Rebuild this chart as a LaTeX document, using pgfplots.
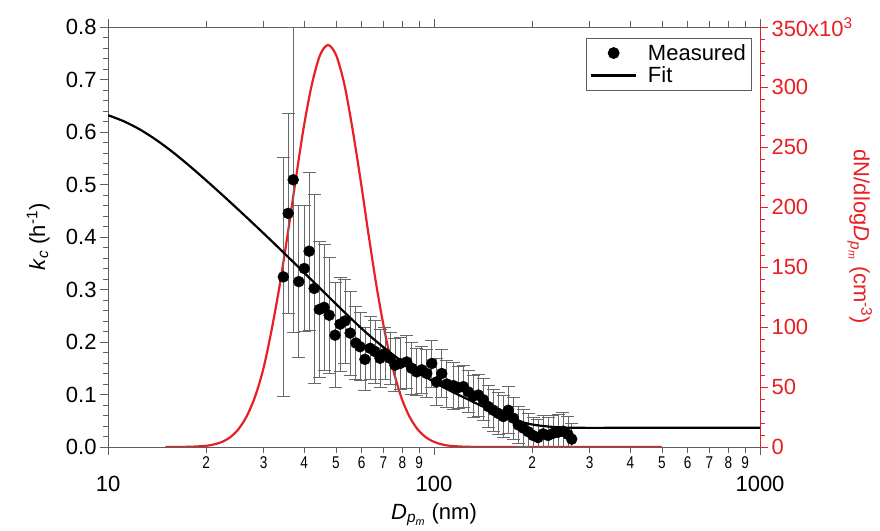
\documentclass[border=0pt]{standalone}
\usepackage{graphicx}
\usepackage{pgfplots}
\pgfplotsset{compat=1.18}
\usepackage{fontspec}
\setmainfont{Liberation Sans}
\definecolor{myred}{RGB}{232,32,38}
\definecolor{axgray}{RGB}{95,95,95}
\definecolor{errgray}{RGB}{105,105,105}
\newcommand{\nl}[1]{\scalebox{0.8}[1]{#1}}
\pgfplotsset{
  marklegend/.style={legend image code/.code={\draw[##1] plot coordinates {(0.78cm,0cm)};}},
  linelegend/.style={legend image code/.code={\draw[##1] (0cm,0cm) -- (1.56cm,0cm);}},
}

\pgfplotstableread{
D k e
34.5 0.324 0.227
35.7 0.445 0.19
37.0 0.509 0.29
38.5 0.315 0.145
40.0 0.340 0.12
41.4 0.373 0.15
42.9 0.302 0.18
44.5 0.262 0.13
46.0 0.266 0.12
47.7 0.251 0.11
49.7 0.213 0.10
51.5 0.234 0.09
53.3 0.240 0.08
55.3 0.217 0.08
57.6 0.198 0.07
59.3 0.191 0.065
61.4 0.167 0.06
63.7 0.188 0.06
65.9 0.182 0.06
68.3 0.169 0.055
70.7 0.178 0.05
73.3 0.169 0.05
75.9 0.156 0.05
78.7 0.159 0.05
82.5 0.162 0.05
85.4 0.150 0.05
88.5 0.143 0.045
91.7 0.147 0.045
95.0 0.140 0.045
98.4 0.159 0.045
101.9 0.124 0.045
105.6 0.140 0.045
109.4 0.120 0.045
114.6 0.117 0.045
118.7 0.113 0.04
123.0 0.115 0.04
127.4 0.105 0.04
132.0 0.097 0.04
136.8 0.099 0.04
141.7 0.090 0.04
146.8 0.077 0.04
152.0 0.070 0.04
157.5 0.064 0.04
163.2 0.058 0.04
169.0 0.070 0.045
175.1 0.055 0.04
181.4 0.042 0.035
187.9 0.036 0.035
194.7 0.029 0.035
201.3 0.022 0.035
208.4 0.018 0.035
216.0 0.025 0.035
223.8 0.022 0.035
231.7 0.026 0.035
240.1 0.028 0.035
248.7 0.030 0.035
257.6 0.024 0.035
264.5 0.015 0.03
}\measured

\begin{document}
\begin{tikzpicture}
% right axis: size distribution
\begin{axis}[
  at={(0,0)}, anchor=south west,
  scale only axis, width=652pt, height=420pt,
  xmode=log, xmin=10, xmax=1000,
  ymin=0, ymax=350,
  axis x line=none,
  axis y line*=right,
  y axis line style={myred, line width=0.8pt},
  ytick={0,50,100,150,200,250,300,350},
  yticklabels={0,50,100,150,200,250,300,350x10\textsuperscript{3}},
  minor y tick num=4,
  tick align=outside,
  major tick length=8pt, minor tick length=5pt,
  y tick style={myred, line width=0.6pt},
  yticklabel style={font=\fontsize{22}{24}\selectfont, text=myred},
  ylabel={dN/dlog\textit{D}\textsubscript{\textit{p}\textsubscript{\textit{m}}} (cm\textsuperscript{-3})},
  ylabel style={font=\fontsize{22}{24}\selectfont, text=myred, at={(axis description cs:1.153,0.5)}, anchor=center, rotate=180},
]
\addplot[myred, line width=2.2pt, smooth] coordinates {
(15,0.01) (17.8,0.19) (20,1.0) (21.1,2.1) (22.4,4.3) (23.7,8.1) (25.1,14.7)
(26.6,25.3) (28.2,41.3) (29.9,64.2) (31.6,94.5) (33.5,132.2) (35.5,175.6)
(37.6,221.6) (39.8,265.5) (42.2,302.1) (44.7,326.5) (47.3,335) (50.1,326.5)
(53.1,302.1) (56.2,265.5) (59.6,221.6) (63.1,175.6) (66.8,132.2) (70.8,94.5)
(75.0,64.2) (79.4,41.3) (84.1,25.3) (89.1,14.7) (94.4,8.1) (100,4.3)
(105.9,2.1) (112,1.0) (126,0.19) (158,0) (300,0) (500,0)};
\end{axis}
% left axis: k_c
\begin{axis}[
  at={(0,0)}, anchor=south west,
  scale only axis, width=652pt, height=420pt,
  xmode=log, xmin=10, xmax=1000,
  ymin=0, ymax=0.8,
  axis y line*=left, axis x line*=box,
  axis line style={axgray, line width=0.8pt},
  tick style={axgray, line width=0.6pt},
  tick align=outside,
  major tick length=8pt, minor tick length=5pt,
  ytick={0,0.1,0.2,0.3,0.4,0.5,0.6,0.7,0.8},
  yticklabels={0.0,0.1,0.2,0.3,0.4,0.5,0.6,0.7,0.8},
  minor y tick num=4,
  yticklabel style={font=\fontsize{22}{24}\selectfont},
  xtick={10,100,1000},
  xticklabels={10,100,1000},
  xticklabel style={font=\fontsize{22}{24}\selectfont, yshift=-18pt},
  extra x ticks={20,30,40,50,60,70,80,90,200,300,400,500,600,700,800,900},
  extra x tick labels={\nl{2},\nl{3},\nl{4},\nl{5},\nl{6},\nl{7},\nl{8},\nl{9},\nl{2},\nl{3},\nl{4},\nl{5},\nl{6},\nl{7},\nl{8},\nl{9}},
  extra x tick style={major tick length=6pt, xticklabel style={yshift=18pt, font=\fontsize{17}{18}\selectfont}},
  xlabel={\textit{D}\textsubscript{\textit{p}\textsubscript{\textit{m}}} (nm)},
  xlabel style={font=\fontsize{22}{24}\selectfont, at={(axis description cs:0.5,-0.162)}, anchor=center},
  ylabel={\textit{k}\textsubscript{\textit{c}} (h\textsuperscript{-1})},
  ylabel style={font=\fontsize{22}{24}\selectfont, at={(axis description cs:-0.107,0.5)}, anchor=center},
  legend style={at={(0.988,0.974)}, anchor=north east, draw=axgray, line width=0.8pt,
    font=\fontsize{22}{24}\selectfont, inner xsep=4pt, inner ysep=4pt, row sep=1pt,
    /tikz/every odd column/.append style={column sep=9pt}},
  legend cell align=left,
]
\addplot[only marks, mark=*, mark size=5.5pt, black, marklegend,
  error bars/.cd, y dir=both, y explicit,
  error bar style={errgray, line width=0.8pt},
  error mark options={rotate=90, errgray, mark size=6.5pt, line width=0.8pt}]
  table[x=D, y=k, y error=e] {\measured};
\addlegendentry{Measured}
\addplot[black, line width=2.2pt, smooth, linelegend] coordinates {
(10,0.632) (11.22,0.620) (12.59,0.604) (14.13,0.584) (15.85,0.561) (17.78,0.5355)
(19.95,0.5085) (22.39,0.4805) (25.12,0.452) (28.18,0.423) (31.62,0.3935)
(35.48,0.3635) (39.81,0.333) (44.67,0.3025) (50.12,0.272) (56.23,0.242)
(63.10,0.2135) (70.79,0.1875) (79.43,0.164) (89.13,0.143) (100,0.124)
(112.2,0.107) (125.9,0.092) (141.3,0.077) (158.5,0.063) (177.8,0.051)
(199.5,0.043) (223.9,0.039) (251.2,0.037) (281.8,0.0365) (400,0.0365) (1000,0.0365)};
\addlegendentry{Fit}
\end{axis}
\pgfresetboundingbox
\path (-108pt,-83pt) rectangle (772pt,447pt);
\end{tikzpicture}
\end{document}
